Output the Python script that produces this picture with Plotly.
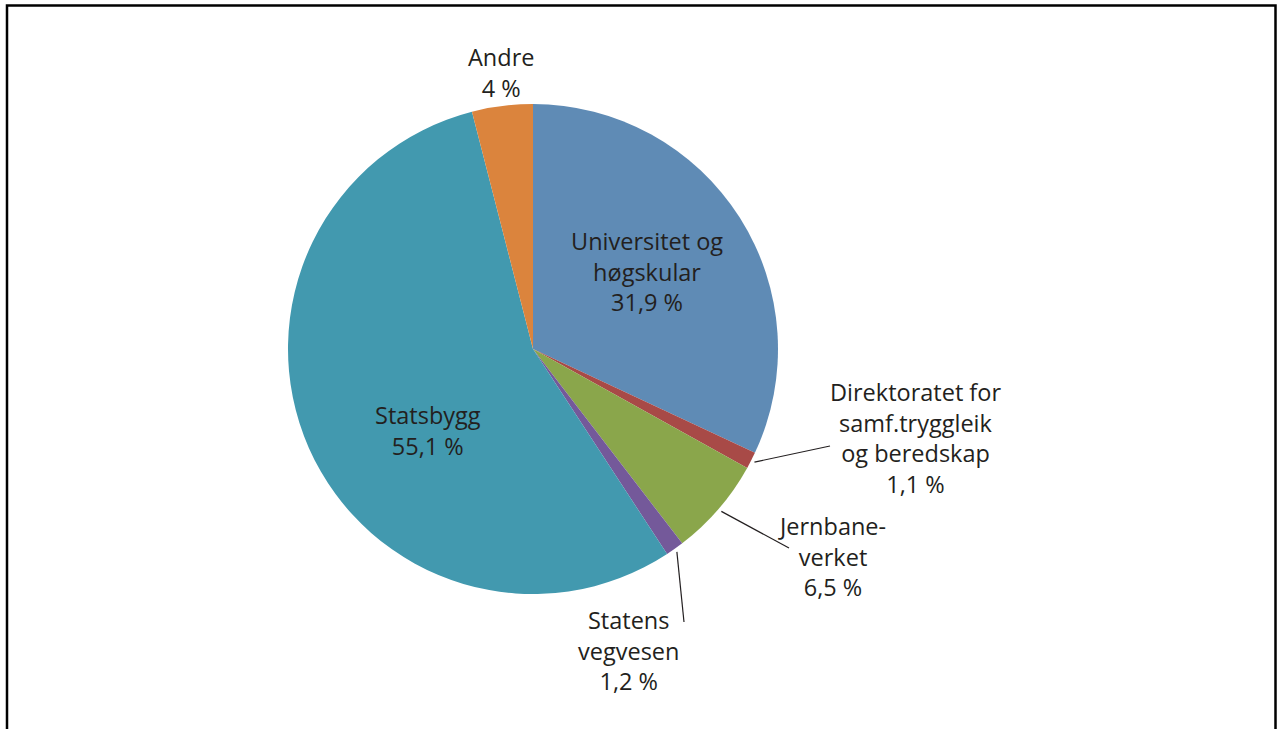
import math
import plotly.graph_objects as go

labels = ["Universitet og høgskular", "Direktoratet for samf.tryggleik og beredskap",
          "Jernbaneverket", "Statens vegvesen", "Statsbygg", "Andre"]
values = [31.9, 1.1, 6.5, 1.2, 55.1, 4.0]
value_text = ["31,9 %", "1,1 %", "6,5 %", "1,2 %", "55,1 %", "4 %"]
label_lines = [["Universitet og", "høgskular"],
               ["Direktoratet for", "samf.tryggleik", "og beredskap"],
               ["Jernbane-", "verket"],
               ["Statens", "vegvesen"],
               ["Statsbygg"],
               ["Andre"]]
colors = ["#5F8BB5", "#A84A47", "#8AA64B", "#74599A", "#4299AF", "#DB843D"]

W, H = 1281, 729
CX, CY, R = 533, 349, 245
TEXT = "#231F20"
FONT = "Open Sans"
FS = 23.5


def px(x):
    return x / W


def py(y):
    return 1 - y / H


fig = go.Figure(go.Pie(
    labels=labels, values=values, sort=False, direction="clockwise", rotation=0,
    marker=dict(colors=colors, line=dict(width=0)),
    textinfo="none", hoverinfo="label+percent", showlegend=False,
    domain=dict(x=[px(CX - R), px(CX + R)], y=[py(CY + R), py(CY - R)]),
))

# label block centre positions (pixels) - layout only
label_pos = [(647, 271), (915, 438), (832, 556), (628, 650), (428, 430), (501, 73)]
line_end = [None, (830, 446), (789, 548), (684, 622), None, None]

total = sum(values)
annotations = []
shapes = []
cum = 0
for i, v in enumerate(values):
    mid = (cum + v / 2) / total * 2 * math.pi
    cum += v
    lines = label_lines[i] + [value_text[i]]
    text = "<br>".join(lines)
    x, y = label_pos[i]
    annotations.append(dict(
        x=px(x), y=py(y), xref="paper", yref="paper", text=text, showarrow=False,
        xanchor="center", yanchor="middle", align="center",
        font=dict(family=FONT, size=FS, color=TEXT),
    ))
    if line_end[i] is not None:
        sx = CX + R * 1.015 * math.sin(mid)
        sy = CY - R * 1.015 * math.cos(mid)
        ex, ey = line_end[i]
        shapes.append(dict(type="line", xref="paper", yref="paper",
                           x0=px(sx), y0=py(sy), x1=px(ex), y1=py(ey),
                           line=dict(color="#231F20", width=1.2)))

# frame
shapes.append(dict(type="rect", xref="paper", yref="paper",
                   x0=px(7), x1=px(1275.5), y0=py(760), y1=py(5.5),
                   line=dict(color="black", width=2.5), fillcolor="rgba(0,0,0,0)"))

fig.update_layout(
    width=W, height=H, margin=dict(l=0, r=0, t=0, b=0),
    paper_bgcolor="white", plot_bgcolor="white",
    annotations=annotations, shapes=shapes,
)
fig.write_html("out.html", config={"displayModeBar": False},
               post_script="document.body.style.margin='0';document.body.style.overflow='hidden';")
